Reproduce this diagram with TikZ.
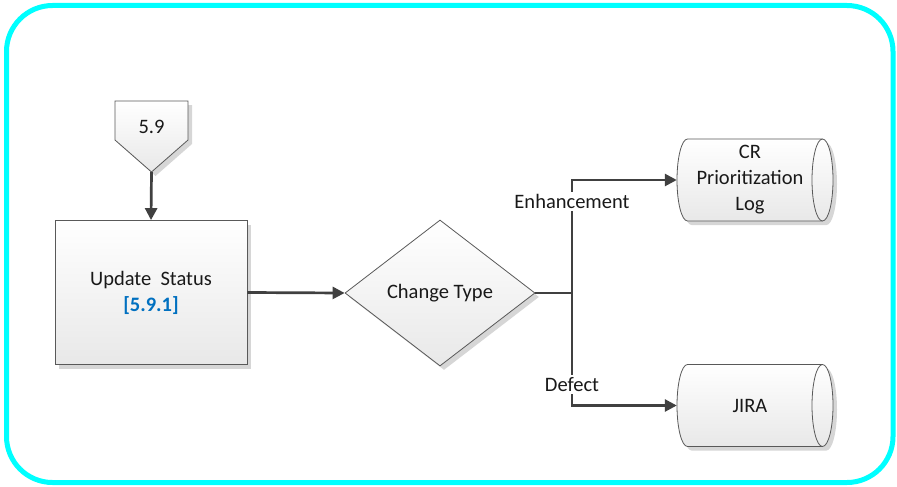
\documentclass[tikz,border=0pt]{standalone}
\usepackage{fontspec}
\setmainfont{Carlito}
\usetikzlibrary{arrows.meta,shapes.geometric,shadows}
\definecolor{frame}{HTML}{00FFFF}
\definecolor{ink}{HTML}{404040}
\definecolor{edge}{HTML}{595959}
\definecolor{refblue}{HTML}{0070C0}
% horizontal data-store cylinder centred at (#1,#2), 156 x 82 with an open right end
\newcommand\cylstore[2]{%
  \path[shapebase] (#1-67.5,#2-41) -- (#1+67.5,#2-41)
    arc[start angle=90, end angle=-90, x radius=10.5pt, y radius=41pt]
    -- (#1-67.5,#2+41)
    arc[start angle=270, end angle=90, x radius=10.5pt, y radius=41pt] -- cycle;
  \draw[draw=edge, line width=0.8pt] (#1+67.5,#2-41)
    arc[start angle=90, end angle=270, x radius=10.5pt, y radius=41pt];
}
\begin{document}
\begin{tikzpicture}[x=1pt,y=-1pt,
  every node/.style={font=\fontsize{20.5}{26}\selectfont, text=black!90},
  shapebase/.style={draw=edge, line width=0.8pt, top color=white, bottom color=black!9,
    drop shadow={shadow xshift=4pt, shadow yshift=-4pt, fill=black!16, opacity=1}},
  process/.style={shapebase, rectangle, minimum width=192pt, minimum height=144pt, align=center},
  decision/.style={shapebase, diamond, minimum width=190pt, minimum height=146pt, inner sep=0pt},
  store/.style={rectangle, minimum width=146pt, minimum height=82pt, align=center, inner sep=0pt},
  conn/.style={draw=ink, line width=2.7pt, -{Triangle[length=12pt,width=12pt]}},
  lbl/.style={fill=white, inner sep=2pt}
]
\useasboundingbox (0,0) rectangle (897,487);

% outer frame
\draw[frame, line width=5pt, rounded corners=46pt] (6.5,5.5) rectangle (893,482.5);

% off-page reference
\path[shapebase] (115,101) -- (188,101) -- (188,140) -- (151.5,172) -- (115,140) -- cycle;
\node (off) at (151.5,127) {5.9};
\coordinate (offtip) at (151.5,172);

% process and decision
\node[process] (upd) at (151,292.5) {Update\ \ Status\\\textcolor{refblue}{\textbf{[5.9.1]}}};
\node[decision] (chg) at (440,293) {Change Type};

% data stores
\cylstore{755}{180}
\cylstore{755}{405.5}
\node[store] (crlog) at (750,180) {CR\\Prioritization\\Log};
\node[store] (jira) at (750,405.5) {JIRA};

% connectors
\coordinate (split) at (572,293);
\draw[conn] (offtip) -- (upd.north);
\draw[conn] (upd.east) -- (chg.west);
\draw[draw=ink, line width=2.7pt] (chg.east) -- (split);
\draw[conn] (split) |- (crlog.west);
\draw[conn] (split) |- (jira.west);
\node[lbl] (enh) at (572,201.5) {Enhancement};
\node[lbl] (def) at (572,384.5) {Defect};
\end{tikzpicture}
\end{document}
